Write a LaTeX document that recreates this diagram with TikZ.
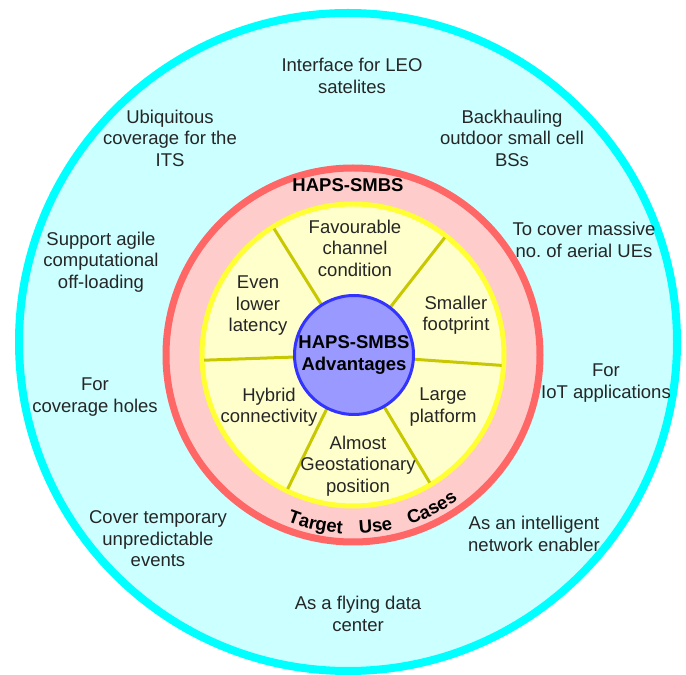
\documentclass[tikz,border=0pt]{standalone}
\usepackage{fontspec}
\setmainfont{Liberation Sans}
\usetikzlibrary{decorations.text,calc}
\definecolor{outerfill}{HTML}{CCFFFF}
\definecolor{outerline}{HTML}{00FFFF}
\definecolor{redfill}{HTML}{FFCCCC}
\definecolor{redline}{HTML}{FF6666}
\definecolor{yelfill}{HTML}{FFFFCC}
\definecolor{yelline}{HTML}{FFFF33}
\definecolor{divline}{HTML}{C8C800}
\definecolor{bluefill}{HTML}{9999FF}
\definecolor{blueline}{HTML}{3333FF}
\definecolor{textc}{HTML}{262626}
\frenchspacing
\begin{document}
\begin{tikzpicture}[x=1pt,y=1pt,
  txt/.style={align=center, inner sep=0pt, text=textc, font=\fontsize{18.5}{21.5}\selectfont},
  boldtxt/.style={align=center, inner sep=0pt, text=black, font=\fontsize{18.5}{21.5}\selectfont\bfseries},
  divider/.style={draw=divline, line width=3pt},
  arcword/.style={decorate, decoration={text along path, text align=center,
     text={|\fontsize{18.5}{21.5}\selectfont\bfseries\color{black}|#1}}}
]
\useasboundingbox (0,0) rectangle (686,675);
\fill[white] (0,0) rectangle (686,675);
% rings
\coordinate (c) at (353,320);
\draw[fill=outerfill, draw=outerline, line width=8pt] (348,333) circle[radius=329];
\draw[fill=redfill, draw=redline, line width=7pt] (c) circle[radius=187];
\draw[fill=yelfill, draw=yelline, line width=5pt] (c) circle[radius=151];
% dividers
\foreach \a in {122,52,-4,-59,-116,182}
  \draw[divider] ($(c)+(\a:58)$) -- ($(c)+(\a:149)$);
% center
\node[circle, draw=blueline, fill=bluefill, line width=3pt, minimum size=119pt, inner sep=0pt,
      boldtxt] (adv) at (354,320) {HAPS-SMBS\\Advantages};
% ring labels
\node[boldtxt] (haps) at (348,490) {HAPS-SMBS};
\path[arcword=Target] (c) ++(-122.5:179) arc[start angle=-122.5, end angle=-82.5, radius=179];
\path[arcword=Use] (c) ++(-102.5:179) arc[start angle=-102.5, end angle=-62.5, radius=179];
\path[arcword=Cases] (c) ++(-82.8:179) arc[start angle=-82.8, end angle=-42.8, radius=179];
% inner advantages
\node[txt] (fav) at (355,427) {Favourable\\channel\\condition};
\node[txt] (even) at (258,369) {Even\\lower\\latency};
\node[txt] (small) at (456,360) {Smaller\\footprint};
\node[txt] (hyb) at (269,268) {Hybrid\\connectivity};
\node[txt] (large) at (443,268) {Large\\platform};
\node[txt] (geo) at (358,209) {Almost\\Geostationary\\position};
% outer use cases
\node[txt] (leo) at (352,599) {Interface for LEO\\satelites};
\node[txt] (its) at (170,537) {Ubiquitous\\coverage for the\\ITS};
\node[txt] (bh) at (512,537) {Backhauling\\outdoor small cell\\BSs};
\node[txt] (aer) at (584,435) {To cover massive\\no.\ of aerial UEs};
\node[txt] (agile) at (101,413) {Support agile\\computational\\off-loading};
\node[txt] (iot) at (606,292) {For\\IoT applications};
\node[txt] (holes) at (95,278) {For\\coverage holes};
\node[txt] (temp) at (158,136) {Cover temporary\\unpredictable\\events};
\node[txt] (intel) at (534,141) {As an intelligent\\network enabler};
\node[txt] (fly) at (358,61) {As a flying data\\center};
\end{tikzpicture}
\end{document}
